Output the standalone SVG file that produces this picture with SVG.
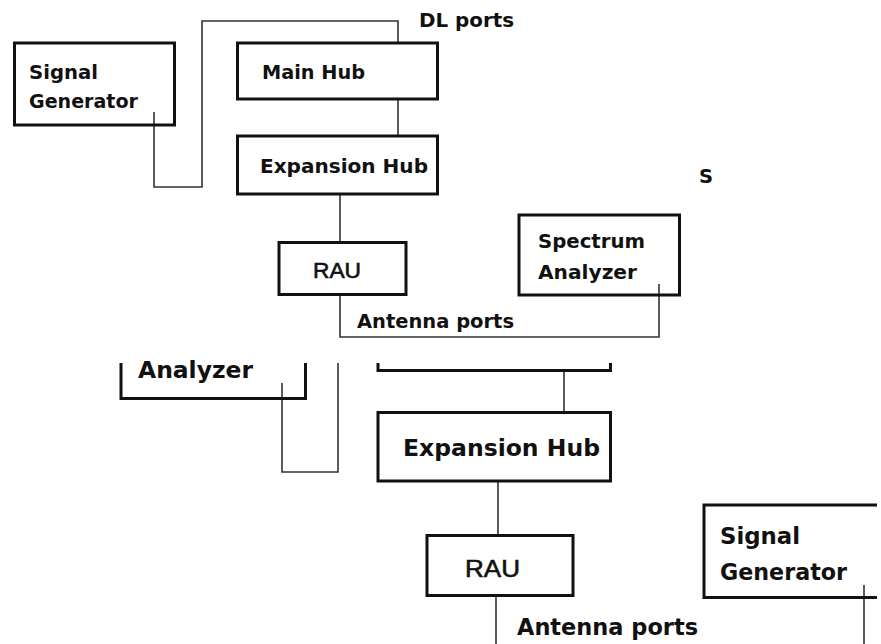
<svg xmlns="http://www.w3.org/2000/svg" width="881" height="644" viewBox="0 0 881 644">
<style>
.box{fill:none;stroke:#111;stroke-width:3}
.edge{fill:none;stroke:#333;stroke-width:1.6}
.t{font-family:"DejaVu Sans",Verdana,sans-serif;font-weight:bold;fill:#111;font-size:19.5px}
.b{font-size:22.5px}
.r{font-family:"Liberation Sans",Arial,sans-serif;font-weight:normal;fill:#111;stroke:#111;stroke-width:0.6}
</style>
<rect width="881" height="644" fill="#fff"/>
<g id="connectors">
<polyline class="edge" points="154,112 154,187 202,187 202,21 398,21 398,43"/>
<line class="edge" x1="398" y1="99" x2="398" y2="136"/>
<line class="edge" x1="340" y1="194" x2="340" y2="242"/>
<polyline class="edge" points="340,295 340,337 659,337 659,284"/>
<polyline class="edge" points="282,383 282,472 338,472 338,363"/>
<line class="edge" x1="564" y1="371" x2="564" y2="412"/>
<line class="edge" x1="498" y1="481" x2="498" y2="535"/>
<line class="edge" x1="496" y1="596" x2="496" y2="644"/>
<line class="edge" x1="864" y1="585" x2="864" y2="644"/>
</g>
<g id="signal-generator-top">
<rect class="box" x="14.5" y="43" width="160" height="82"/>
<text class="t" x="29" y="79" textLength="69" lengthAdjust="spacingAndGlyphs">Signal</text>
<text class="t" x="29" y="108" textLength="109" lengthAdjust="spacingAndGlyphs">Generator</text>
</g>
<g id="main-hub-top">
<rect class="box" x="237.5" y="43" width="200" height="56"/>
<text class="t" x="262" y="79" textLength="103" lengthAdjust="spacingAndGlyphs">Main Hub</text>
</g>
<g id="expansion-hub-top">
<rect class="box" x="237.5" y="136" width="200" height="58"/>
<text class="t" x="260" y="173" textLength="168" lengthAdjust="spacingAndGlyphs">Expansion Hub</text>
</g>
<g id="rau-top">
<rect class="box" x="279" y="242.5" width="127" height="52"/>
<text class="r" x="313" y="278" font-size="21.5" textLength="48" lengthAdjust="spacingAndGlyphs">RAU</text>
</g>
<g id="spectrum-analyzer-top">
<rect class="box" x="519" y="215" width="160.5" height="80"/>
<text class="t" x="538" y="248" textLength="107" lengthAdjust="spacingAndGlyphs">Spectrum</text>
<text class="t" x="538" y="279" textLength="99" lengthAdjust="spacingAndGlyphs">Analyzer</text>
</g>
<g id="labels-top">
<text class="t" x="419" y="27" textLength="95" lengthAdjust="spacingAndGlyphs">DL ports</text>
<text class="t" x="357" y="328" textLength="157" lengthAdjust="spacingAndGlyphs">Antenna ports</text>
<text class="t" x="699" y="183" font-size="18">S</text>
</g>
<g id="spectrum-analyzer-bottom">
<polyline class="box" points="121,363 121,398.5 305.5,398.5 305.5,363"/>
<text class="t b" x="138" y="378" textLength="115" lengthAdjust="spacingAndGlyphs">Analyzer</text>
</g>
<g id="main-hub-bottom">
<polyline class="box" points="378,363 378,370.5 610.5,370.5 610.5,363"/>
</g>
<g id="expansion-hub-bottom">
<rect class="box" x="378" y="412.5" width="232.5" height="68.5"/>
<text class="t b" x="403" y="456" textLength="197" lengthAdjust="spacingAndGlyphs">Expansion Hub</text>
</g>
<g id="rau-bottom">
<rect class="box" x="427" y="535.5" width="146" height="60"/>
<text class="r" x="465" y="577" font-size="24" textLength="55" lengthAdjust="spacingAndGlyphs">RAU</text>
</g>
<g id="signal-generator-bottom">
<polyline class="box" points="877,505 704,505 704,597.5 877,597.5"/>
<text class="t b" x="720" y="544" textLength="80" lengthAdjust="spacingAndGlyphs">Signal</text>
<text class="t b" x="720" y="580" textLength="127" lengthAdjust="spacingAndGlyphs">Generator</text>
</g>
<g id="labels-bottom">
<text class="t b" x="517" y="635" textLength="181" lengthAdjust="spacingAndGlyphs">Antenna ports</text>
</g>
</svg>
